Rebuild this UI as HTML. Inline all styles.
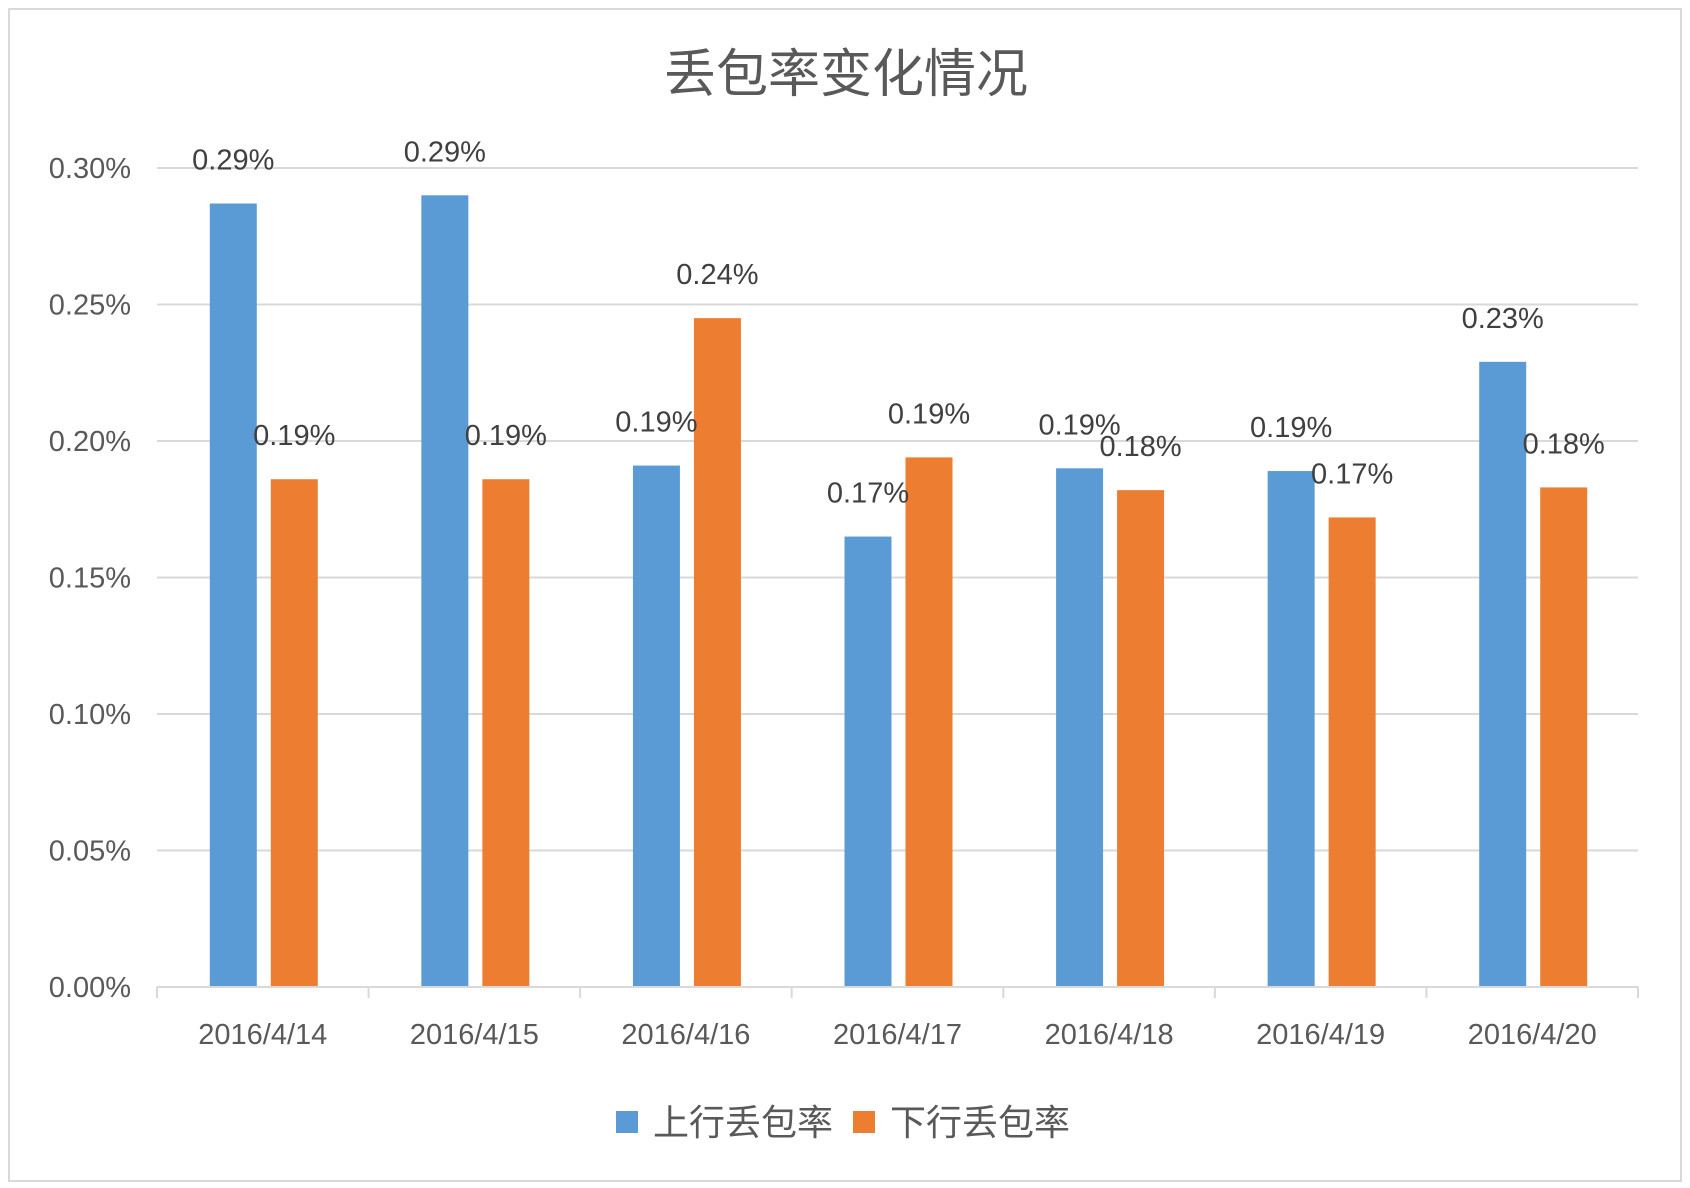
<!DOCTYPE html>
<html><head><meta charset="utf-8"><style>
html,body{margin:0;padding:0;background:#fff;}
svg{display:block;font-family:"Liberation Sans","Noto Sans CJK SC",sans-serif;}
</style></head><body>
<svg id="chart" width="1690" height="1188" viewBox="0 0 1690 1188" xmlns="http://www.w3.org/2000/svg">
<rect x="9" y="9" width="1672" height="1172" fill="#fff" stroke="#d9d9d9" stroke-width="2"/>
<text x="846" y="92" text-anchor="middle" font-size="52" fill="#595959" font-family="'Noto Sans CJK SC',sans-serif">丢包率变化情况</text>
<g id="grid"></g><g id="bars"></g><g id="labels"></g><g id="axes"></g>
<g>
<rect x="616" y="1111" width="22" height="22" fill="#5b9bd5"/>
<text x="653" y="1135" font-size="36" fill="#595959" font-family="'Noto Sans CJK SC',sans-serif">上行丢包率</text>
<rect x="853" y="1111" width="22" height="22" fill="#ed7d31"/>
<text x="890" y="1135" font-size="36" fill="#595959" font-family="'Noto Sans CJK SC',sans-serif">下行丢包率</text>
</g>
</svg>
<script>
const categories=["2016/4/14","2016/4/15","2016/4/16","2016/4/17","2016/4/18","2016/4/19","2016/4/20"];
const upValues=[0.287,0.290,0.191,0.165,0.190,0.189,0.229];
const downValues=[0.186,0.186,0.245,0.194,0.182,0.172,0.183];
const upLabels=["0.29%","0.29%","0.19%","0.17%","0.19%","0.19%","0.23%"];
const downLabels=["0.19%","0.19%","0.24%","0.19%","0.18%","0.17%","0.18%"];
const yTicks=[0,0.05,0.10,0.15,0.20,0.25,0.30];
const yTickLabels=["0.00%","0.05%","0.10%","0.15%","0.20%","0.25%","0.30%"];

const NS="http://www.w3.org/2000/svg";
const X0=157,X1=1638,Y0=987,Y1=168,YMAX=0.30;
const gw=(X1-X0)/categories.length;
const y=v=>Y0-(v/YMAX)*(Y0-Y1);
const xc=i=>X0+gw*(i+0.5);
function mk(tag,attrs,parent){const e=document.createElementNS(NS,tag);for(const k in attrs)e.setAttribute(k,attrs[k]);parent.appendChild(e);return e;}
const grid=document.getElementById('grid'),bars=document.getElementById('bars'),labels=document.getElementById('labels'),axes=document.getElementById('axes');
yTicks.forEach((t,i)=>{
  if(i>0){const l=mk('line',{x1:X0,x2:X1,y1:y(t),y2:y(t),stroke:'#d9d9d9','stroke-width':2},grid);
  
  }
  const tx=mk('text',{x:131,y:y(t)+10,'text-anchor':'end','font-size':29,fill:'#595959'},axes);
  tx.textContent=yTickLabels[i];
  
  
});
const ax=mk('line',{x1:X0,x2:X1,y1:Y0,y2:Y0,stroke:'#d9d9d9','stroke-width':2},axes);


for(let i=0;i<=categories.length;i++){
  const tk=mk('line',{x1:X0+gw*i,x2:X0+gw*i,y1:Y0,y2:Y0+11,stroke:'#d9d9d9','stroke-width':2},axes);
  
  
}
const bw=47;
categories.forEach((c,i)=>{
  const cx=xc(i);
  const ux=cx-53, dx=cx+8;
  const b1=mk('rect',{x:ux,y:y(upValues[i]),width:bw,height:Y0-y(upValues[i]),fill:'#5b9bd5'},bars);
  
  
  const b2=mk('rect',{x:dx,y:y(downValues[i]),width:bw,height:Y0-y(downValues[i]),fill:'#ed7d31'},bars);
  
  
  const l1=mk('text',{x:ux+bw/2,y:y(upValues[i])-34,'text-anchor':'middle','font-size':29,fill:'#404040'},labels);
  l1.textContent=upLabels[i];
  
  
  const l2=mk('text',{x:dx+bw/2,y:y(downValues[i])-34,'text-anchor':'middle','font-size':29,fill:'#404040'},labels);
  l2.textContent=downLabels[i];
  
  
  const xt=mk('text',{x:cx,y:1044,'text-anchor':'middle','font-size':29,fill:'#595959'},axes);
  xt.textContent=c;
  
  
});
</script>
</body></html>
